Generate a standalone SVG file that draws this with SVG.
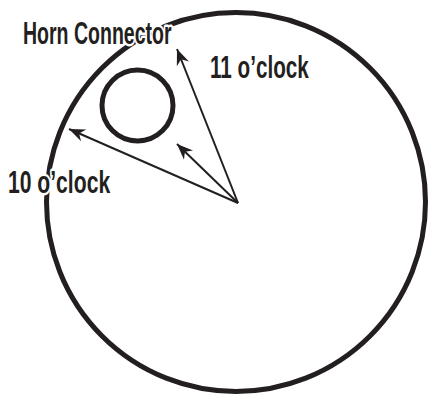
<svg xmlns="http://www.w3.org/2000/svg" width="429" height="396" viewBox="0 0 429 396">
<style>
.ring{fill:none;stroke:#231f20;stroke-width:5}
.arr{fill:none;stroke:#231f20;stroke-width:2;marker-end:url(#ah)}
.lbl{font-family:"Liberation Sans",Arial,sans-serif;font-size:32px;font-weight:bold;fill:#231f20;stroke:#fff;stroke-width:5;paint-order:stroke;stroke-linejoin:round}
</style>
<defs>
<marker id="ah" markerUnits="userSpaceOnUse" markerWidth="20" markerHeight="16" viewBox="-16 -8 20 16" refX="0" refY="0" orient="auto">
<path d="M0,0 L-16,-6.5 L-11,0 L-16,6.5 Z" fill="#231f20"/>
</marker>
</defs>
<rect width="429" height="396" fill="#fff"/>
<g id="outer">
<circle class="ring" cx="236" cy="202" r="189.5"/>
</g>
<g id="horn">
<circle class="ring" cx="137.5" cy="105.5" r="35.5"/>
</g>
<g id="connectors">
<line class="arr" x1="238" y1="203" x2="177" y2="49"/>
<line class="arr" x1="238" y1="203" x2="69" y2="129"/>
<line class="arr" x1="238" y1="203" x2="177" y2="144"/>
</g>
<g id="label-horn">
<text class="lbl" transform="translate(23,44) scale(0.61,1)">Horn Connector</text>
</g>
<g id="label-11">
<text class="lbl" transform="translate(210,78) scale(0.646,1)">11 o’clock</text>
</g>
<g id="label-10">
<text class="lbl" transform="translate(8,193) scale(0.66,1)">10 o’clock</text>
</g>
</svg>
